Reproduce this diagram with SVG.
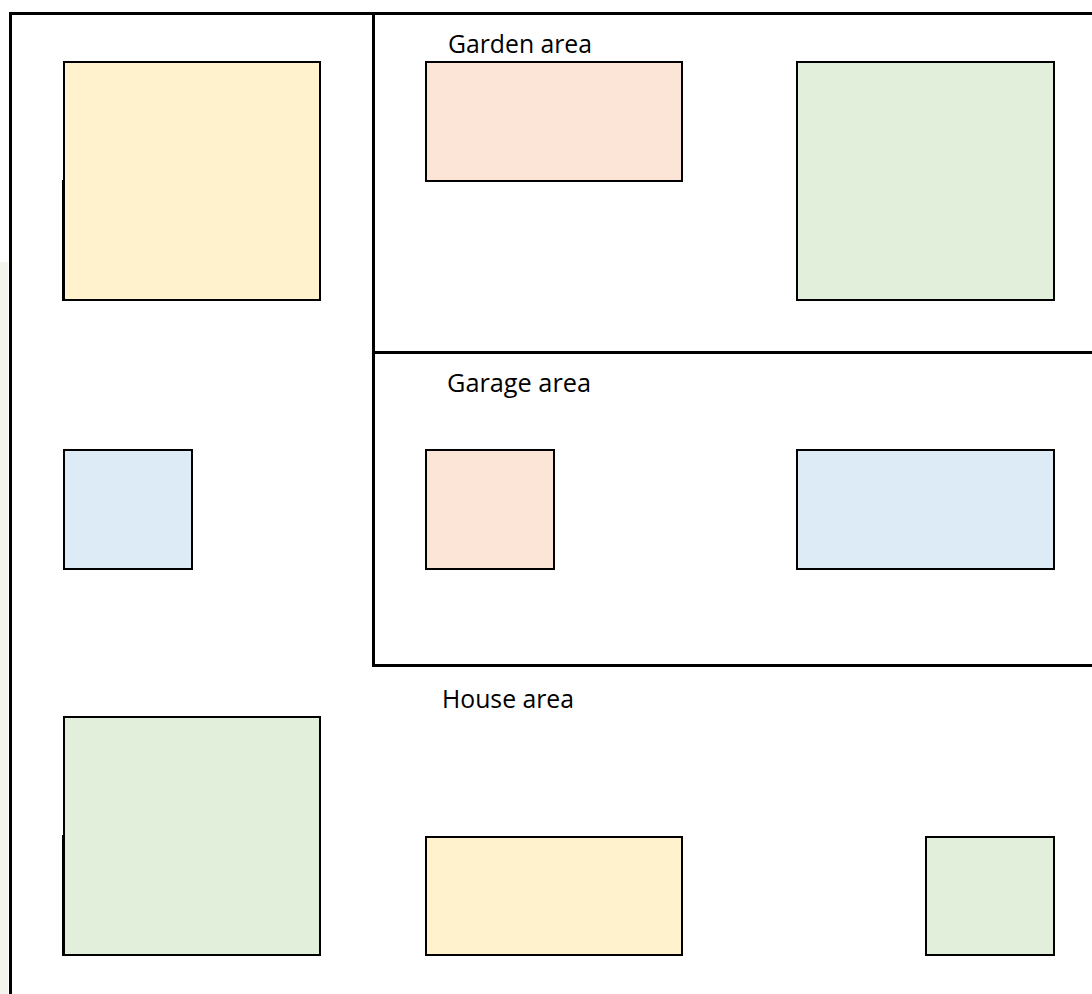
<svg xmlns="http://www.w3.org/2000/svg" width="1092" height="994" viewBox="0 0 1092 994">
<style>
.box{stroke:#000;stroke-width:2}
.line{stroke:#000;stroke-width:3;fill:none}
.yel{fill:#fff2cc}.pea{fill:#fce4d6}.grn{fill:#e2efda}.blu{fill:#ddebf7}
.lbl{font-family:"Open Sans","Liberation Sans",sans-serif;font-size:25px;fill:#000}
.edge{stroke:#000;stroke-width:2}
</style>
<rect width="1092" height="994" fill="#fff"/>
<rect x="0" y="262" width="8" height="732" fill="#f3f5ed"/>
<g id="frame">
<path class="line" d="M10.5 994 V13.5 H1092"/>
<path class="line" d="M373.5 13.5 V665.5 H1092"/>
<path class="line" d="M373.5 352.5 H1092"/>
</g>
<g id="labels">
<text class="lbl" x="448" y="53" textLength="144" lengthAdjust="spacingAndGlyphs">Garden area</text>
<text class="lbl" x="447" y="392" textLength="144" lengthAdjust="spacingAndGlyphs">Garage area</text>
<text class="lbl" x="442" y="708" textLength="132" lengthAdjust="spacingAndGlyphs">House area</text>
</g>
<g id="n1"><rect class="box yel" x="64" y="62" width="256" height="238"/><line class="edge" x1="63" y1="180" x2="63" y2="301"/></g>
<g id="n2"><rect class="box pea" x="426" y="62" width="256" height="119"/></g>
<g id="n3"><rect class="box grn" x="797" y="62" width="257" height="238"/></g>
<g id="n4"><rect class="box blu" x="64" y="450" width="128" height="119"/></g>
<g id="n5"><rect class="box pea" x="426" y="450" width="128" height="119"/></g>
<g id="n6"><rect class="box blu" x="797" y="450" width="257" height="119"/></g>
<g id="n7"><rect class="box grn" x="64" y="717" width="256" height="238"/><line class="edge" x1="63" y1="835" x2="63" y2="956"/></g>
<g id="n8"><rect class="box yel" x="426" y="837" width="256" height="118"/></g>
<g id="n9"><rect class="box grn" x="926" y="837" width="128" height="118"/></g>
<g id="connectors"></g>
</svg>
